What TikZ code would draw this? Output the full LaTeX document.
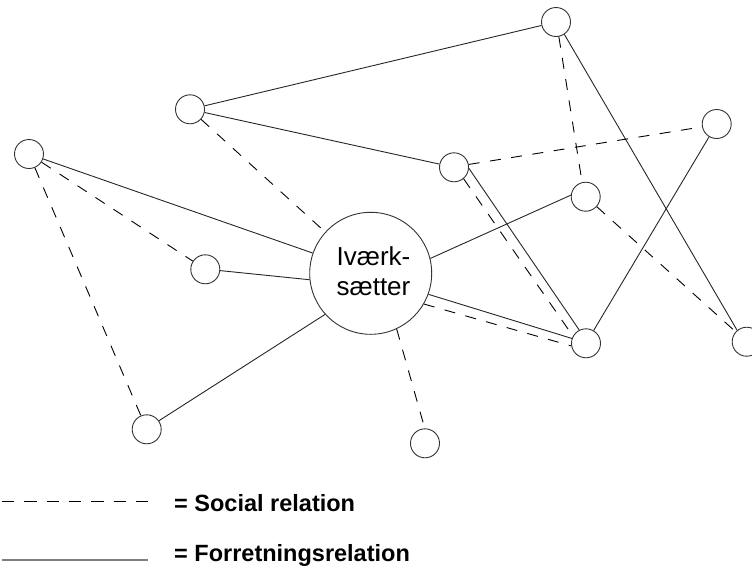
\documentclass[tikz,border=0pt]{standalone}
\usepackage{fontspec}
\setmainfont{Liberation Sans}
\begin{document}
\begin{tikzpicture}[x=1pt,y=-1pt,
  person/.style={circle, draw=black!80, line width=0.9pt, minimum size=29pt, inner sep=0pt},
  hub/.style={circle, draw=black!80, line width=0.9pt, minimum size=122pt, inner sep=0pt},
  hubtext/.style={align=center, inner sep=0pt, font=\fontsize{26}{29.5}\selectfont},
  business/.style={draw=black!85, line width=0.9pt},
  social/.style={draw=black, line width=0.9pt, dash pattern=on 11pt off 10.5pt},
  legendtext/.style={anchor=base west, inner sep=0pt, font=\fontsize{23.5}{26}\selectfont\bfseries}]
\useasboundingbox (0,0) rectangle (752,574);
\clip (0,0) rectangle (752,574);

% actors
\node[hub] (c) at (370.7,273.3) {};
\node[hubtext] (ct) at (373.5,271) {Iværk-\\sætter};
\node[person] (A) at (29,154) {};
\node[person] (B) at (190,109.3) {};
\node[person] (C) at (556,22) {};
\node[person] (D) at (716.7,124) {};
\node[person] (E) at (454,167.3) {};
\node[person] (F) at (585.7,196.7) {};
\node[person] (G) at (205.3,269.3) {};
\node[person] (H) at (586,343.3) {};
\node[person] (I) at (746.7,341.7) {};
\node[person] (J) at (146.7,429.3) {};
\node[person] (K) at (425,443.3) {};

% business relations
\draw[business] (A) -- (c);
\draw[business] (B) -- (C);
\draw[business] (B) -- (E);
\draw[business] (C.-56) -- (I.130);
\draw[business] (E.-4) -- (H.117);
\draw[business] (D) -- (H);
\draw[business] (G.-5) -- (c.186);
\draw[business] (J.35) -- (c.222);
\draw[business] (c.14) -- (F.174);
\draw[business] (c.-20) -- (H.161);

% social relations
\draw[social] (A) -- (G);
\draw[social] (A) -- (J);
\draw[social] (B) -- (c);
\draw[social] (C.-79) -- (F.104);
\draw[social] (E.11) -- (D.191);
\draw[social] (E.-50) -- (H.151);
\draw[social] (F) -- (I);
\draw[social] (c.-30) -- (H.190);
\draw[social] (c.-65) -- (K.91);

% legend
\coordinate (s1) at (2,501.5);
\coordinate (s2) at (148,501.5);
\coordinate (b1) at (2,559.5);
\coordinate (b2) at (148,559.5);
\draw[social, line width=1.3pt, dash pattern=on 12.3pt off 10pt] (s1) -- (s2);
\draw[draw=black!50, line width=2pt] (b1) -- (b2);
\node[legendtext] (ls) at (174,511) {= Social relation};
\node[legendtext] (lb) at (174,561) {= Forretningsrelation};
\end{tikzpicture}
\end{document}
